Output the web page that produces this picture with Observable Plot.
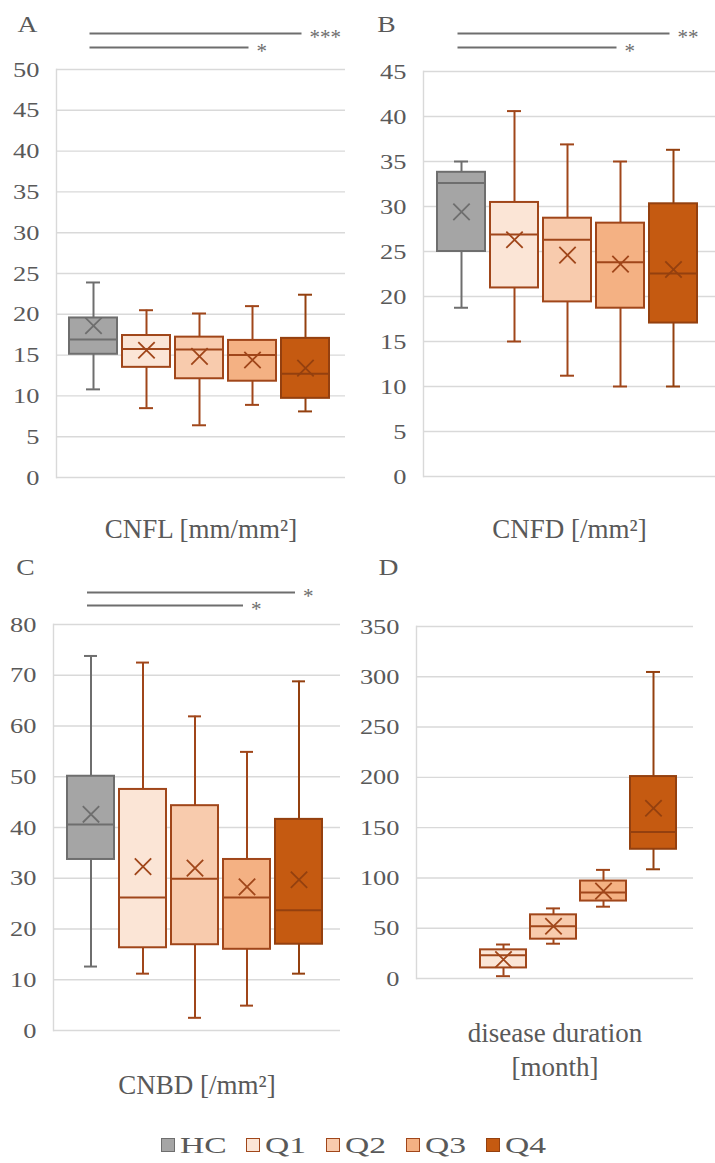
<!DOCTYPE html>
<html>
<head>
<meta charset="utf-8">
<script src="https://cdn.jsdelivr.net/npm/d3@7"></script>
<script src="https://cdn.jsdelivr.net/npm/@observablehq/plot@0.6"></script>
<style>
  body { margin: 0; background: #fff; }
  #root { position: relative; width: 715px; height: 1163px; font-family: "Liberation Serif", "Times New Roman", serif; overflow: hidden; }
  .panel { position: absolute; }
  #legend { position: absolute; left: -4px; top: 1130px; width: 715px; height: 30px; display: flex; justify-content: center; align-items: center; font-size: 24px; color: #595959; }
  .item { display: flex; align-items: center; margin: 0 10px; }
  .sw { width: 14px; height: 14px; margin-right: 5px; box-sizing: border-box; border: 1.6px solid; }
  .lt { display: inline-block; transform-origin: 0 50%; white-space: nowrap; }
</style>
</head>
<body>
<div id="root">
  <div id="pA" class="panel" style="left:0;top:0"></div>
  <div id="pB" class="panel" style="left:357px;top:0"></div>
  <div id="pC" class="panel" style="left:0;top:560px"></div>
  <div id="pD" class="panel" style="left:357px;top:560px"></div>
  <div id="legend"></div>
</div>
<script>
// ---------- data ----------
const groups = ["HC", "Q1", "Q2", "Q3", "Q4"];

// A: CNFL [mm/mm²]
const cnflMin    = [10.8, 8.5, 6.4, 8.9, 8.1];
const cnflQ1     = [15.1, 13.5, 12.1, 11.8, 9.7];
const cnflMedian = [16.9, 15.75, 15.7, 15.0, 12.7];
const cnflQ3     = [19.55, 17.4, 17.2, 16.8, 17.05];
const cnflMax    = [23.9, 20.5, 20.1, 21.0, 22.4];
const cnflMean   = [18.6, 15.6, 14.85, 14.4, 13.4];

// B: CNFD [/mm²]
const cnfdMin    = [18.75, 15.0, 11.2, 10.0, 10.0];
const cnfdQ1     = [25.0, 20.95, 19.4, 18.7, 17.05];
const cnfdMedian = [32.6, 26.9, 26.3, 23.8, 22.55];
const cnfdQ3     = [33.8, 30.45, 28.7, 28.15, 30.3];
const cnfdMax    = [35.0, 40.6, 36.9, 35.0, 36.3];
const cnfdMean   = [29.4, 26.3, 24.6, 23.6, 23.0];

// C: CNBD [/mm²]
const cnbdMin    = [12.6, 11.2, 2.5, 4.9, 11.2];
const cnbdQ1     = [33.7, 16.3, 16.9, 16.0, 17.0];
const cnbdMedian = [40.6, 26.2, 29.9, 26.2, 23.7];
const cnbdQ3     = [50.1, 47.5, 44.3, 33.7, 41.6];
const cnbdMax    = [73.8, 72.5, 61.9, 54.9, 68.8];
const cnbdMean   = [42.6, 32.3, 32.0, 28.3, 29.7];

// D: disease duration [month] (no HC box)
const durMin    = [null, 2.3, 34.6, 71.4, 108.6];
const durQ1     = [null, 10.5, 39.1, 77.0, 128.5];
const durMedian = [null, 23.2, 52.0, 85.6, 145.7];
const durQ3     = [null, 28.5, 63.3, 96.9, 200.8];
const durMax    = [null, 33.8, 69.7, 108.0, 304.8];
const durMean   = [null, 18.9, 52.0, 86.9, 169.3];

// significance brackets
const sigA = [{from: "HC", to: "Q4", label: "***"}, {from: "HC", to: "Q3", label: "*"}];
const sigB = [{from: "HC", to: "Q4", label: "**"},  {from: "HC", to: "Q3", label: "*"}];
const sigC = [{from: "HC", to: "Q4", label: "*"},   {from: "HC", to: "Q3", label: "*"}];

// ---------- styles ----------
const fillColors   = ["#a5a5a5", "#fbe5d6", "#f8cbad", "#f4b183", "#c55a11"];
const strokeColors = ["#6e6e6e", "#a0461a", "#a0461a", "#a0461a", "#94400f"];
const fillOf = d => fillColors[groups.indexOf(d.group)];
const strokeOf = d => strokeColors[groups.indexOf(d.group)];
const textColor = "#595959";
const sigColor = "#6e6e6e";
const font = "'Liberation Serif', 'Times New Roman', serif";

function rows(min, q1, med, q3, max, mean) {
  return groups.map((g, i) => ({group: g, min: min[i], q1: q1[i], median: med[i], q3: q3[i], max: max[i], mean: mean[i]}))
    .filter(d => d.median != null);
}

// widen glyphs horizontally (the reference's type is slightly stretched)
function stretch(svg, selector, sx) {
  svg.querySelectorAll(selector).forEach(t => {
    const tr = t.getAttribute("transform") || "";
    t.setAttribute("transform", tr + ` scale(${sx},1)`);
  });
}

function panel(o) {
  const data = o.data;
  const ticks = d3.range(0, o.yMax + o.yStep / 2, o.yStep);
  const sw = 2;
  const sigMarks = (o.sig || []).flatMap((s, k) => [
    Plot.link([s], {x1: "from", x2: "to", y1: () => o.yMax, y2: () => o.yMax, dx: -4, dy: o.sigDy[k], stroke: sigColor, strokeWidth: 2}),
    Plot.text([s], {x: "to", y: () => o.yMax, text: "label", dx: 4, dy: o.sigDy[k] + 4, textAnchor: "start", lineAnchor: "middle", fontSize: 21, fill: sigColor})
  ]);
  const svg = Plot.plot({
    width: o.width, height: o.height,
    marginLeft: o.ml, marginRight: o.mr, marginTop: o.mt, marginBottom: o.mb,
    x: {domain: groups, paddingInner: 0.09, paddingOuter: 0.27, align: 0.45, axis: null},
    y: {domain: [0, o.yMax]},
    color: {type: "identity"},
    style: {fontFamily: font, background: "transparent", overflow: "visible"},
    marks: [
      Plot.gridY(ticks, {stroke: "#d9d9d9", strokeOpacity: 1, strokeWidth: 1.4}),
      Plot.frame({anchor: "left", stroke: "#d9d9d9", strokeWidth: 1.4}),
      Plot.axisY(ticks, {tickSize: 0, tickPadding: 17, fontSize: 22, fill: textColor, label: null, ariaDescription: "ticklabels"}),
      Plot.ruleX(data, {x: "group", y1: "min", y2: "max", stroke: strokeOf, strokeWidth: sw}),
      Plot.tickY(data, {x: "group", y: "min", stroke: strokeOf, strokeWidth: sw, insetLeft: o.cap, insetRight: o.cap}),
      Plot.tickY(data, {x: "group", y: "max", stroke: strokeOf, strokeWidth: sw, insetLeft: o.cap, insetRight: o.cap}),
      Plot.barY(data, {x: "group", y1: "q1", y2: "q3", fill: fillOf, stroke: strokeOf, strokeWidth: sw}),
      Plot.tickY(data, {x: "group", y: "median", stroke: strokeOf, strokeWidth: sw}),
      Plot.dot(data, {x: "group", y: "mean", symbol: "times", r: 7.5, stroke: strokeOf, fill: "none", strokeWidth: 1.8}),
      Plot.text([o.label], {text: d => d, frameAnchor: "bottom", textAnchor: "middle", lineAnchor: "middle", dy: o.labelDy, fontSize: 27, lineHeight: 1.24, fill: textColor}),
      Plot.text([o.letter], {text: d => d, frameAnchor: "top-left", textAnchor: "middle", lineAnchor: "middle", dx: o.letterDx, dy: o.letterDy, fontSize: 23, fill: textColor, ariaDescription: "letter"}),
      ...sigMarks
    ]
  });
  stretch(svg, 'g[aria-description="ticklabels"] text, g[aria-label="y-axis tick label"] text', 1.2);
  stretch(svg, 'g[aria-description="letter"] text', 1.2);
  return svg;
}

document.getElementById("pA").append(panel({
  data: rows(cnflMin, cnflQ1, cnflMedian, cnflQ3, cnflMax, cnflMean),
  yMax: 50, yStep: 5, width: 357, height: 560, ml: 56, mr: 12, mt: 69, mb: 83, cap: 17,
  label: "CNFL [mm/mm²]", labelDy: 50, letter: "A", letterDx: -29, letterDy: -45,
  sig: sigA, sigDy: [-36, -22]
}));
document.getElementById("pB").append(panel({
  data: rows(cnfdMin, cnfdQ1, cnfdMedian, cnfdQ3, cnfdMax, cnfdMean),
  yMax: 45, yStep: 5, width: 358, height: 560, ml: 66, mr: 0, mt: 71, mb: 84, cap: 17,
  label: "CNFD [/mm²]", labelDy: 51, letter: "B", letterDx: -37, letterDy: -47,
  sig: sigB, sigDy: [-38, -24]
}));
document.getElementById("pC").append(panel({
  data: rows(cnbdMin, cnbdQ1, cnbdMedian, cnbdQ3, cnbdMax, cnbdMean),
  yMax: 80, yStep: 10, width: 357, height: 560, ml: 53, mr: 17, mt: 64, mb: 90, cap: 17,
  label: "CNBD [/mm²]", labelDy: 53, letter: "C", letterDx: -28, letterDy: -57,
  sig: sigC, sigDy: [-32, -19]
}));
document.getElementById("pD").append(panel({
  data: rows(durMin, durQ1, durMedian, durQ3, durMax, durMean),
  yMax: 350, yStep: 50, width: 358, height: 560, ml: 59, mr: 22, mt: 66, mb: 142, cap: 16,
  label: "disease duration\n[month]", labelDy: 70, letter: "D", letterDx: -28, letterDy: -59,
  sig: [], sigDy: []
}));

// legend
const legend = document.getElementById("legend");
const legendScale = 1.4;
groups.forEach((g, i) => {
  const item = document.createElement("div");
  item.className = "item";
  const sw = document.createElement("span");
  sw.className = "sw";
  sw.style.background = fillColors[i];
  sw.style.borderColor = strokeColors[i];
  const t = document.createElement("span");
  t.className = "lt";
  t.textContent = g;
  item.append(sw, t);
  legend.append(item);
  const w = t.getBoundingClientRect().width;
  t.style.width = (w * legendScale) + "px";
  t.style.transform = `scaleX(${legendScale})`;
});
</script>
</body>
</html>
